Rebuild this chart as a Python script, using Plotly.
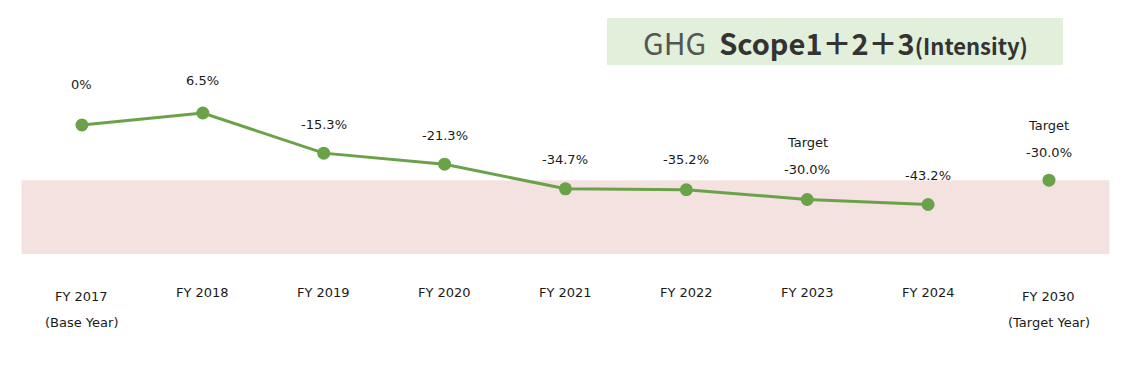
import plotly.graph_objects as go

categories = ["FY 2017", "FY 2018", "FY 2019", "FY 2020", "FY 2021",
              "FY 2022", "FY 2023", "FY 2024", "FY 2030"]
category_notes = ["(Base Year)", "", "", "", "", "", "", "", "(Target Year)"]
actual_values = [0.0, 6.5, -15.3, -21.3, -34.7, -35.2, -40.5, -43.2]
target_2030_value = -30.0
point_labels = ["0%", "6.5%", "-15.3%", "-21.3%", "-34.7%", "-35.2%",
                "Target<br>-30.0%", "-43.2%", "Target<br>-30.0%"]
label_shifts = [40, 33, 29, 29, 29, 30, 22, 29, 20]
band_range = [-30.0, -70.1]

GREEN = "#6aa24a"
FONT = "DejaVu Sans"
TITLE_FONT = "Noto Sans CJK JP"
PLOT_H = 254  # plot area height in px (top margin 0)

x_idx = list(range(len(categories)))

fig = go.Figure()
fig.add_shape(type="rect", xref="x", yref="y", x0=-0.5, x1=8.5,
              y0=band_range[1], y1=band_range[0],
              fillcolor="#f4e2e0", line_width=0, layer="below")
fig.add_trace(go.Scatter(x=x_idx[:len(actual_values)], y=actual_values,
                         mode="lines+markers",
                         line=dict(color=GREEN, width=3),
                         marker=dict(color=GREEN, size=13),
                         hoverinfo="skip", showlegend=False))
fig.add_trace(go.Scatter(x=[x_idx[-1]], y=[target_2030_value], mode="markers",
                         marker=dict(color=GREEN, size=13),
                         hoverinfo="skip", showlegend=False))

all_vals = actual_values + [target_2030_value]
for i, (v, lab, sh) in enumerate(zip(all_vals, point_labels, label_shifts)):
    if "<br>" in lab:
        top, bottom = lab.split("<br>")
        fig.add_annotation(x=i, y=v, text=bottom, showarrow=False, yshift=sh + 8,
                           yanchor="middle",
                           font=dict(family=FONT, size=13, color="#1a1a1a"))
        fig.add_annotation(x=i, y=v, text=top, showarrow=False, yshift=sh + 35,
                           yanchor="middle",
                           font=dict(family=FONT, size=13, color="#1a1a1a"))
    else:
        fig.add_annotation(x=i, y=v, text=lab, showarrow=False, yshift=sh,
                           yanchor="middle",
                           font=dict(family=FONT, size=13, color="#1a1a1a"))

# x category labels
for i, (cat, note) in enumerate(zip(categories, category_notes)):
    base = 296 if note else 292
    fig.add_annotation(x=i, xref="x", yref="paper", y=1 - base / PLOT_H, text=cat,
                       showarrow=False, yanchor="middle",
                       font=dict(family=FONT, size=13, color="#1a1a1a"))
    if note:
        fig.add_annotation(x=i, xref="x", yref="paper", y=1 - 322 / PLOT_H, text=note,
                           showarrow=False, yanchor="middle",
                           font=dict(family=FONT, size=13, color="#1a1a1a"))

# title box
fig.add_shape(type="rect", xref="paper", yref="paper",
              x0=607/1136, x1=1063/1136, y0=1-65/PLOT_H, y1=1-18/PLOT_H,
              fillcolor="#e2efda", line_width=0)
fig.add_annotation(xref="paper", yref="paper", x=835/1136, y=1-42/PLOT_H,
                   text=("<span style='color:#555555;font-size:30px'>GHG</span>&nbsp;&nbsp;"
                         "<b style='font-size:29px'>Scope1＋2＋3</b>"
                         "<b style='font-size:22px'>(Intensity)</b>"),
                   showarrow=False, xanchor="center", yanchor="middle",
                   font=dict(family=TITLE_FONT, color="#333333", size=29))

fig.update_layout(
    width=1136, height=369,
    margin=dict(l=0, r=0, t=0, b=369 - PLOT_H),
    paper_bgcolor="white", plot_bgcolor="white",
    xaxis=dict(range=[-0.678, 8.72], showticklabels=False,
               showgrid=False, zeroline=False, showline=False),
    yaxis=dict(range=[-70.1, 67.9], visible=False, showgrid=False, zeroline=False),
)

fig.write_html("out.html", config={"displayModeBar": False},
               post_script="document.body.style.margin='0';")
